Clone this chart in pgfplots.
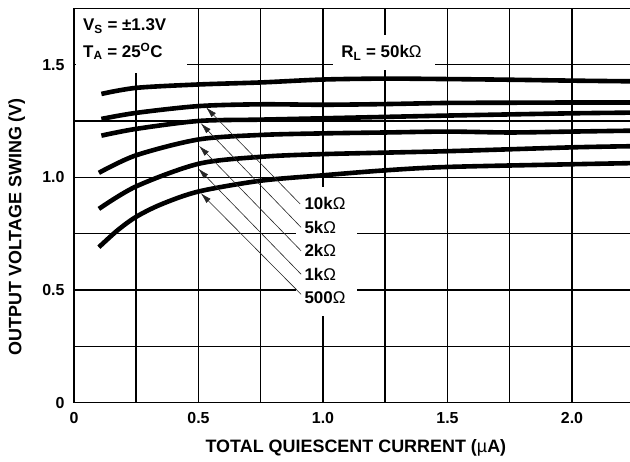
\documentclass[border=0pt]{standalone}
\usepackage{fontspec}
\setmainfont{Liberation Sans}
\usepackage{pgfplots}
\pgfplotsset{compat=1.18}
\usetikzlibrary{arrows.meta}

\newcommand{\ohm}{{\mdseries Ω}}

\begin{document}
\begin{tikzpicture}
\begin{axis}[
    scale only axis, width=556bp, height=394.4bp,
    xmin=0, xmax=2.233, ymin=0, ymax=1.75,
    clip=false,
    axis x line*=bottom, axis y line*=left,
    axis line style={-, line width=1.5bp, black},
    xtick={0,0.5,1,1.5,2}, xticklabels={0,0.5,1.0,1.5,2.0},
    ytick={0,0.5,1,1.5}, yticklabels={0,0.5,1.0,1.5},
    minor xtick={0.25,0.75,1.25,1.75},
    minor ytick={0.25,0.75,1.25},
    grid=both,
    grid style={black, line width=1.5bp},
    minor grid style={black, line width=1.5bp},
    major tick length=0pt, minor tick length=0pt,
    tick label style={font=\fontsize{16}{18}\selectfont\bfseries},
    xticklabel style={yshift=-6bp},
    yticklabel style={xshift=-6bp},
    xlabel={TOTAL QUIESCENT CURRENT ({\mdseries µ}A)},
    ylabel={OUTPUT VOLTAGE SWING (V)},
    label style={font=\fontsize{18}{20}\selectfont\bfseries},
    xlabel style={at={(axis description cs:0.507,-0.1156)}, anchor=center},
    ylabel style={at={(axis description cs:-0.103,0.446)}, anchor=center},
]
% white boxes behind the notes
\fill[white] (axis cs:0.008,1.463) rectangle (axis cs:0.454,1.745);
\fill[white] (axis cs:1.040,1.476) rectangle (axis cs:1.450,1.632);
\fill[white] (axis cs:0.892,0.383) rectangle (axis cs:1.137,0.958);
\draw[line width=1.5bp] (rel axis cs:0,1) -- (rel axis cs:1,1);

% R_L = 50k
\addplot[black, line width=4.6bp, smooth] coordinates {
(0.11,1.370)(0.25,1.397)(0.5,1.412)(0.75,1.421)(1.0,1.434)(1.25,1.438)(1.5,1.436)(1.75,1.433)(2.0,1.429)(2.24,1.426)};
% 10k
\addplot[black, line width=4.6bp, smooth] coordinates {
(0.11,1.259)(0.25,1.286)(0.5,1.316)(0.75,1.324)(1.0,1.322)(1.25,1.325)(1.5,1.330)(1.75,1.331)(2.0,1.332)(2.24,1.332)};
% 5k
\addplot[black, line width=4.6bp, smooth] coordinates {
(0.11,1.185)(0.25,1.215)(0.5,1.250)(0.75,1.256)(1.0,1.262)(1.5,1.274)(2.0,1.284)(2.24,1.287)};
% 2k
\addplot[black, line width=4.6bp, smooth] coordinates {
(0.10,1.020)(0.25,1.098)(0.5,1.168)(0.75,1.188)(1.0,1.195)(1.25,1.199)(1.5,1.203)(1.75,1.199)(2.0,1.203)(2.24,1.207)};
% 1k
\addplot[black, line width=4.6bp, smooth] coordinates {
(0.10,0.860)(0.25,0.960)(0.5,1.060)(0.75,1.091)(1.0,1.103)(1.5,1.116)(2.0,1.133)(2.24,1.138)};
% 500
\addplot[black, line width=4.6bp, smooth] coordinates {
(0.10,0.690)(0.175,0.765)(0.25,0.825)(0.35,0.880)(0.5,0.937)(0.75,0.985)(1.0,1.009)(1.25,1.031)(1.5,1.046)(2.0,1.058)(2.24,1.063)};

% arrows to the curves
\begin{scope}[line width=0.6bp, black!85, -{Latex[length=11bp,width=6bp]}]
\draw (axis cs:0.908,0.882) -- (axis cs:0.530,1.311);
\draw (axis cs:0.912,0.778) -- (axis cs:0.509,1.240);
\draw (axis cs:0.912,0.674) -- (axis cs:0.502,1.140);
\draw (axis cs:0.912,0.570) -- (axis cs:0.499,1.039);
\draw (axis cs:0.912,0.481) -- (axis cs:0.509,0.930);
\end{scope}

\begin{scope}[font=\fontsize{17}{19}\selectfont\bfseries]
\node[anchor=west, inner sep=0] at (axis cs:0.925,0.882) {10k\ohm};
\node[anchor=west, inner sep=0] at (axis cs:0.925,0.779) {5k\ohm};
\node[anchor=west, inner sep=0] at (axis cs:0.925,0.677) {2k\ohm};
\node[anchor=west, inner sep=0] at (axis cs:0.925,0.570) {1k\ohm};
\node[anchor=west, inner sep=0] at (axis cs:0.925,0.467) {500\ohm};
\node[anchor=west, inner sep=0] at (axis cs:0.036,1.672) {V\textsubscript{S} = ±1.3V};
\node[anchor=west, inner sep=0] at (axis cs:0.036,1.559) {T\textsubscript{A} = 25\textsuperscript{O}C};
\node[anchor=center, inner sep=0] at (axis cs:1.235,1.551) {R\textsubscript{L} = 50k\ohm};
\end{scope}
\end{axis}
\pgfresetboundingbox
\path[use as bounding box] (current axis.south west) ++(-74bp,-59.3bp)
    rectangle ([yshift=8.3bp]current axis.north east);
\end{tikzpicture}
\end{document}
